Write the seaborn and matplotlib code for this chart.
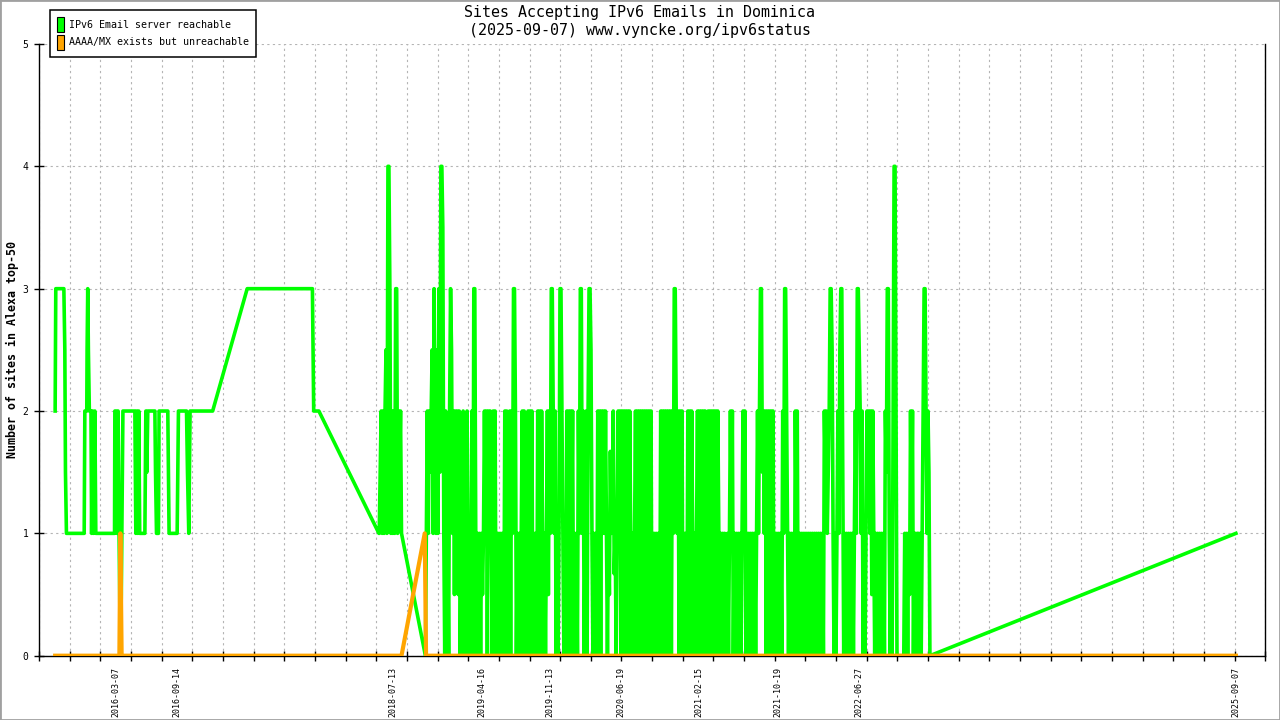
import numpy as np
import pandas as pd
import matplotlib
matplotlib.use("Agg")
import matplotlib.pyplot as plt
import matplotlib.dates as mdates
from matplotlib.patches import Patch, Rectangle
from matplotlib.ticker import FixedLocator, NullFormatter, FixedFormatter
import seaborn as sns

# ---------------- text ----------------
title_lines = ["Sites Accepting IPv6 Emails in Dominica",
               "(2025-09-07) www.vyncke.org/ipv6status"]
y_label = "Number of sites in Alexa top-50"
series_names = ["IPv6 Email server reachable", "AAAA/MX exists but unreachable"]
series_colors = ["#00ff00", "#ffa500"]
label_dates = ["2016-03-07", "2016-09-14", "2018-07-13", "2019-04-16", "2019-11-13",
               "2020-06-19", "2021-02-15", "2021-10-19", "2022-06-27", "2025-09-07"]
y_ticks = [0, 1, 2, 3, 4, 5]
x_range = ["2015-07-14", "2025-12-07"]

# ---------------- green series: sparse early part ----------------
early_dates = ["2015-09-02", "2015-09-04", "2015-09-29", "2015-10-02", "2015-10-04", "2015-10-07",
               "2015-12-01", "2015-12-03", "2015-12-09", "2015-12-10", "2015-12-12", "2015-12-14",
               "2015-12-17", "2015-12-22", "2015-12-24", "2015-12-27", "2015-12-30", "2016-01-03",
               "2016-01-06", "2016-03-04", "2016-03-05", "2016-03-09", "2016-03-12", "2016-03-15",
               "2016-03-18", "2016-03-22", "2016-03-25", "2016-03-30", "2016-05-06", "2016-05-09",
               "2016-05-12", "2016-05-15", "2016-05-18", "2016-05-21", "2016-06-06", "2016-06-09",
               "2016-06-12", "2016-06-15", "2016-07-07", "2016-07-09", "2016-07-12", "2016-07-18",
               "2016-07-20", "2016-08-16", "2016-08-20", "2016-09-14", "2016-09-18", "2016-10-13",
               "2016-10-16", "2016-10-20", "2016-10-24", "2017-01-02", "2017-04-19", "2017-11-07",
               "2017-11-09", "2017-11-11", "2017-11-27", "2018-06-01"]
early_values = [2, 3, 3, 2.5, 1.5, 1,
                1, 2, 2, 2.5, 3, 2.5,
                2, 2, 1, 2, 1, 2,
                1, 1, 2, 2, 1, 2,
                1, 0, 0.5, 2, 2, 1,
                2, 1, 2, 1, 1, 2,
                1.5, 2, 2, 1.5, 1, 1,
                2, 2, 1, 1, 2, 2,
                1.5, 1, 2, 2, 3, 3,
                2.5, 2, 2, 1]

# ---------------- green series: first dense burst (every 3 days) ----------------
burst_start = "2018-06-02"
burst_step = "3D"
burst_values = [1, 1.5, 2, 1, 2, 1, 2, 2.5, 1, 4, 4, 3,
                1, 2, 1, 2, 1, 3, 3, 1, 2, 1.5, 2, 1]

gap_dates = ["2018-10-23"]
gap_values = [0]

# ---------------- green series: main dense period (every 3 days) ----------------
dense_start = "2018-10-26"
dense_step = "3D"
dense_k00 = [1, 2, 1, 2, 1.5, 2, 2.5, 1, 3, 2, 1, 2.5, 1, 3, 1.5, 4, 4, 3.5, 1, 0, 2, 0, 1, 0, 2, 3]
dense_k01 = [2.5, 1, 2, 0.5, 2, 1, 2, 0.5, 2, 0, 1, 0, 2, 0, 1, 0, 2, 1, 0, 1, 0, 2, 0, 3, 3, 1]
dense_k02 = [0, 1, 0, 1, 0, 1, 0.5, 1, 2, 1, 2, 0, 2, 1, 2, 1, 0, 2, 1, 2, 0, 1, 0, 1, 0, 1]
dense_k03 = [0, 1, 0, 2, 1, 2, 0, 1, 2, 0, 2, 1, 3, 3, 2, 0, 1, 0, 1, 0, 1, 2, 0, 2, 1, 0]
dense_k04 = [1, 2, 0, 2, 1, 2, 0, 1, 0, 1, 0, 2, 1, 2, 0, 2, 1, 0, 1, 0, 1, 2, 0.5, 2, 1, 3]
dense_k05 = [3, 2, 1, 2, 0, 1, 0, 1, 3, 3, 2, 1, 0, 1, 0, 2, 1, 2, 0, 2, 1, 2, 0, 1, 0, 1]
dense_k06 = [0, 2, 1, 3, 3, 1, 2, 0, 1, 2, 0, 2, 3, 3, 2.5, 1, 0, 1, 0, 1, 0, 2, 1, 2, 0, 2]
dense_k07 = [1, 2, 1, 2, 1, 0, 1, 0.5, 1.67, 1, 1.33, 2, 0.67, 1, 0, 1, 2, 1, 2, 0, 2, 1, 2, 0, 2, 1]
dense_k08 = [2, 0, 2, 1, 0, 1, 0, 1, 2, 0, 2, 1, 2, 0, 2, 1, 2, 0, 2, 1, 2, 0, 2, 1, 2, 0]
dense_k09 = [1, 0, 1, 0, 1, 0.5, 1, 0, 2, 1, 2, 0, 2, 1, 2, 0, 2, 1, 2, 0, 2, 1, 3, 3, 2, 1]
dense_k10 = [2, 0, 2, 1, 2, 0, 1, 0, 1, 0, 2, 1, 2, 0, 2, 1, 0, 1, 0, 1, 2, 0, 2, 1, 2, 0]
dense_k11 = [2, 1, 2, 0, 1.5, 2, 0, 2, 1, 2, 0, 2, 1, 2, 0, 2, 1, 0, 1, 0, 1, 0, 1, 0, 0.5, 1]
dense_k12 = [0, 1, 2, 1, 2, 0, 1, 0, 1, 0, 1, 0, 1, 0, 1, 2, 1, 2, 0, 1, 0, 1, 0, 1, 0, 1]
dense_k13 = [0, 1, 0, 1, 2, 1, 2, 3, 3, 1.5, 2, 1, 2, 0, 2, 1, 2, 0, 2, 1, 2, 0, 1, 0, 1, 0]
dense_k14 = [1, 0, 1, 0, 2, 1, 3, 3, 2, 1, 0, 1, 0, 1, 0, 1, 0, 2, 1, 2, 0, 1, 0, 1, 0, 1]
dense_k15 = [0, 1, 0.5, 1, 0, 1, 0, 1, 0, 1, 0.5, 1, 0, 1, 0, 1, 0, 1, 0.5, 1, 0, 2, 1.5, 2, 1, 1.5]
dense_k16 = [2, 3, 3, 2.5, 1, 0, 1, 0, 1, 2, 1, 2.5, 3, 3, 1.5, 0, 1, 0, 1, 0, 1, 0, 1, 0, 1, 0]
dense_k17 = [1, 2, 1, 3, 3, 2.5, 2, 1, 2, 0, 1, 0, 1, 2, 1.33, 2, 1, 2, 0.5, 2, 1, 0, 1, 0, 1, 0]
dense_k18 = [1, 0, 1, 0.5, 1, 0, 2, 1.5, 3, 3, 1, 0, 1, 0, 2, 4, 4, 2, 0, 0, 0, 0, 0, 0, 0, 0]
dense_k19 = [1, 0, 1, 0, 1, 0.5, 2, 1, 2, 0, 1, 1, 0, 1, 1, 0, 1, 0, 1, 2, 3, 3, 2, 1, 2, 1.5]
dense_k20 = [0]

final_dates = ["2025-09-07"]
final_values = [1]

# ---------------- orange series ----------------
orange_dates = ["2015-09-02", "2016-03-19", "2016-03-22", "2016-03-26", "2018-08-10",
                "2018-10-21", "2018-10-25", "2025-09-07"]
orange_values = [0, 0, 1, 0, 0, 1, 0, 0]

# ---------------- build frames ----------------
dense_values = (dense_k00 + dense_k01 + dense_k02 + dense_k03 + dense_k04 + dense_k05 +
                dense_k06 + dense_k07 + dense_k08 + dense_k09 + dense_k10 + dense_k11 +
                dense_k12 + dense_k13 + dense_k14 + dense_k15 + dense_k16 + dense_k17 +
                dense_k18 + dense_k19 + dense_k20)
green = pd.concat([
    pd.DataFrame({"date": pd.to_datetime(early_dates), "value": early_values}),
    pd.DataFrame({"date": pd.date_range(burst_start, periods=len(burst_values), freq=burst_step),
                  "value": burst_values}),
    pd.DataFrame({"date": pd.to_datetime(gap_dates), "value": gap_values}),
    pd.DataFrame({"date": pd.date_range(dense_start, periods=len(dense_values), freq=dense_step),
                  "value": dense_values}),
    pd.DataFrame({"date": pd.to_datetime(final_dates), "value": final_values}),
], ignore_index=True)
orange = pd.DataFrame({"date": pd.to_datetime(orange_dates), "value": orange_values})

# ---------------- figure ----------------
mono = "DejaVu Sans Mono"
plt.rcParams["font.family"] = [mono, "DejaVu Sans"]

fig = plt.figure(figsize=(12.8, 7.2), dpi=100)
fig.patch.set_facecolor("white")
L, R, T, B = 39.0, 1265.3, 44.0, 655.7
ax = fig.add_axes([L / 1280, 1 - B / 720, (R - L) / 1280, (B - T) / 720])
ax.set_facecolor("white")

sns.lineplot(data=green, x="date", y="value", color=series_colors[0], lw=2.6,
             estimator=None, sort=False, ax=ax, legend=False, zorder=3)
sns.lineplot(data=orange, x="date", y="value", color=series_colors[1], lw=3.0,
             estimator=None, sort=False, ax=ax, legend=False, zorder=4)

xmin, xmax = mdates.date2num(pd.to_datetime(x_range))
ax.set_xlim(xmin, xmax)
ax.set_ylim(y_ticks[0], y_ticks[-1])

ax.xaxis.set_major_locator(FixedLocator(np.linspace(xmin, xmax, 41)))
ax.xaxis.set_major_formatter(NullFormatter())
ax.xaxis.set_minor_locator(FixedLocator(mdates.date2num(pd.to_datetime(label_dates))))
ax.xaxis.set_minor_formatter(FixedFormatter(label_dates))
ax.tick_params(axis="x", which="major", direction="inout", length=7, width=1, color="black")
ax.tick_params(axis="x", which="minor", length=0, pad=8, labelsize=6, labelrotation=90,
               labelcolor="black")
ax.set_yticks(y_ticks)
ax.tick_params(axis="y", which="major", direction="inout", length=7, width=1, color="black",
               labelsize=7, pad=4, labelcolor="black")

ax.set_axisbelow(True)
ax.grid(True, which="major", axis="both", color="#b4b4b4", linestyle=(0, (2, 3)), linewidth=0.8)

for side in ["left", "bottom", "right"]:
    ax.spines[side].set_color("black")
    ax.spines[side].set_linewidth(1.0)
ax.spines["top"].set_visible(False)

ax.set_xlabel("")
ax.set_ylabel(y_label, fontsize=8.4, fontweight="bold", family=mono, color="black")
ax.yaxis.set_label_coords((19 - L) / (R - L), 0.5)

fig.text(0.5, 1 - 13 / 720, title_lines[0], ha="center", va="center", fontsize=10.8,
         family=mono, color="black")
fig.text(0.5, 1 - 31 / 720, title_lines[1], ha="center", va="center", fontsize=10.8,
         family=mono, color="black")

handles = [Patch(facecolor=c, edgecolor="black", linewidth=0.8) for c in series_colors]
leg = fig.legend(handles, series_names, loc="upper left", bbox_to_anchor=(50 / 1280, 1 - 10 / 720),
                 frameon=True, fancybox=False, edgecolor="black", framealpha=1,
                 prop={"family": mono, "size": 7.2}, handlelength=0.7, handleheight=1.9,
                 handletextpad=0.5, labelspacing=0.3, borderpad=0.7, borderaxespad=0)
leg.get_frame().set_linewidth(1.1)

fig.add_artist(Rectangle((0, 0), 1, 1, transform=fig.transFigure, fill=False,
                         edgecolor="#a0a0a0", linewidth=2))

fig.savefig("out.png", dpi=100, facecolor="white")
